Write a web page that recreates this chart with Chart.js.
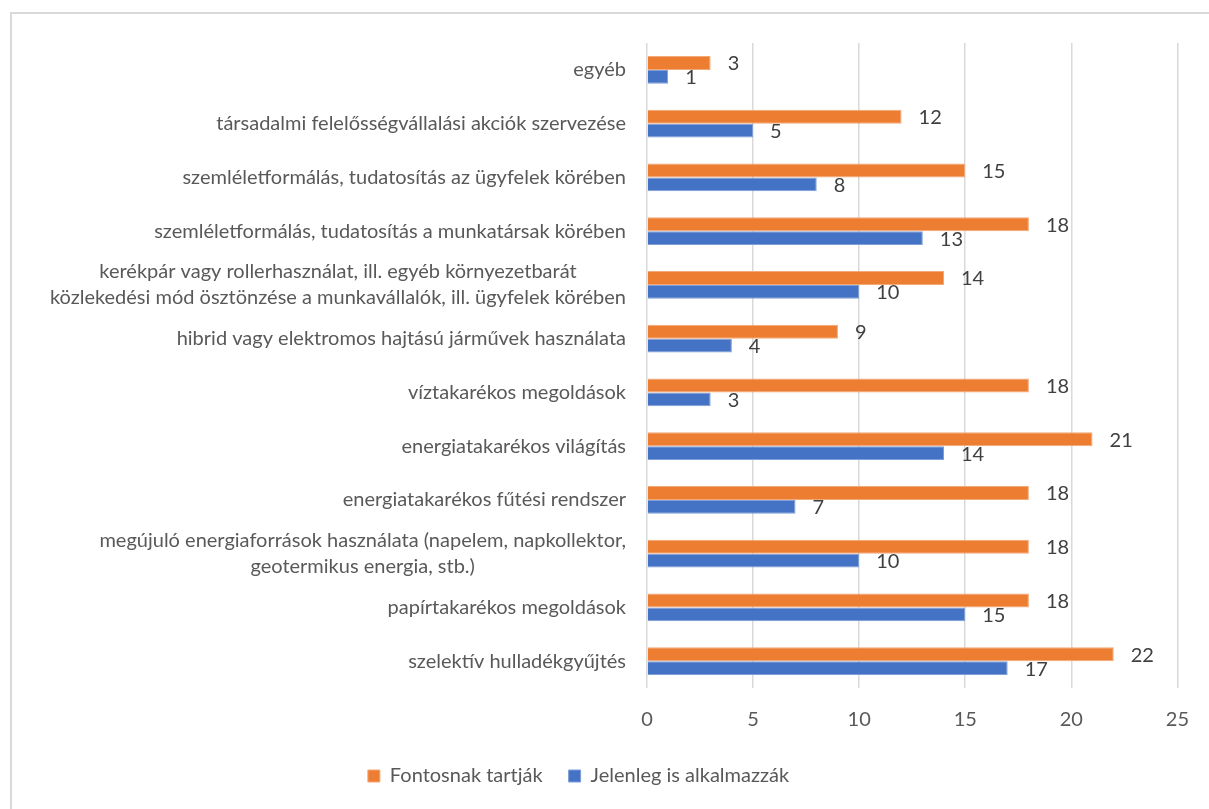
<!DOCTYPE html>
<html>
<head>
<meta charset="utf-8">
<script src="https://cdn.jsdelivr.net/npm/chart.js@4/dist/chart.umd.min.js"></script>
<style>
  html, body { margin: 0; padding: 0; background: #fff; overflow: hidden; }
  #frame { position: absolute; left: 10px; top: 12px; width: 1300px; height: 900px;
           border-left: 2px solid #d9d9d9; border-top: 2px solid #d9d9d9; }
  #chart { position: absolute; left: 0; top: 0; }
</style>
</head>
<body>
<div id="frame"></div>
<canvas id="chart" width="1209" height="809"></canvas>
<script>
// categories, top to bottom
const categories = [
    "egyéb",
    "társadalmi felelősségvállalási akciók szervezése",
    "szemléletformálás, tudatosítás az ügyfelek körében",
    "szemléletformálás, tudatosítás a munkatársak körében",
    ["kerékpár vagy rollerhasználat, ill. egyéb környezetbarát", "közlekedési mód ösztönzése a munkavállalók, ill. ügyfelek körében"],
    "hibrid vagy elektromos hajtású járművek használata",
    "víztakarékos megoldások",
    "energiatakarékos világítás",
    "energiatakarékos fűtési rendszer",
    ["megújuló energiaforrások használata (napelem, napkollektor,", "geotermikus energia, stb.)"],
    "papírtakarékos megoldások",
    "szelektív hulladékgyűjtés"
];
const fontosnak = [3, 12, 15, 18, 14, 9, 18, 21, 18, 18, 18, 22];
const jelenleg = [1, 5, 8, 13, 10, 4, 3, 14, 7, 10, 15, 17];
const xTicks = [0, 5, 10, 15, 20, 25];

const FONT = "Lato";

// category labels: block right aligned, lines centred inside it
const categoryLabels = {
    id: 'categoryLabels',
    afterDraw(chart) {
        const ctx = chart.ctx;
        const y = chart.scales.y;
        ctx.save();
        ctx.font = "20px " + FONT;
        ctx.fillStyle = "#595959";
        ctx.textAlign = "center";
        ctx.textBaseline = "middle";
        categories.forEach((lab, i) => {
            const lines = Array.isArray(lab) ? lab : [lab];
            const w = Math.max(...lines.map(l => ctx.measureText(l).width));
            const cx = chart.chartArea.left - 21 - w / 2;
            const cy = y.getPixelForTick(i);
            lines.forEach((l, k) => {
                ctx.fillText(l, cx, cy + (k - (lines.length - 1) / 2) * 26);
            });
        });
        ctx.restore();
    }
};

// value labels at bar ends
const valueLabels = {
    id: 'valueLabels',
    afterDatasetsDraw(chart) {
        const ctx = chart.ctx;
        ctx.save();
        ctx.font = "20px " + FONT;
        ctx.fillStyle = "#404040";
        ctx.textAlign = "left";
        ctx.textBaseline = "middle";
        chart.data.datasets.forEach((ds, i) => {
            chart.getDatasetMeta(i).data.forEach((bar, j) => {
                ctx.fillText(ds.data[j], bar.x + 17, bar.y + 1);
            });
        });
        ctx.restore();
    }
};

// legend sits a little left of the canvas centre in the original
const shiftLegend = {
    id: 'shiftLegend',
    afterLayout(chart) {
        chart.legend.left -= 11;
        chart.legend.right -= 11;
    }
};

const data = {
    labels: categories,
    datasets: [{
        label: 'Fontosnak tartják',
        data: fontosnak,
        backgroundColor: '#ED7D31',
        borderColor: '#f3a878',
        borderWidth: 1
    },
    {
        label: 'Jelenleg is alkalmazzák',
        data: jelenleg,
        backgroundColor: '#4472C4',
        borderColor: '#7f9fd6',
        borderWidth: 1
    }]
};

const config = {
    type: 'bar',
    data,
    options: {
        indexAxis: 'y',
        responsive: false,
        animation: false,
        devicePixelRatio: 1,
        categoryPercentage: 0.52,
        barPercentage: 1,
        layout: { padding: { top: 43, right: 30, bottom: 13, left: 0 } },
        scales: {
            x: {
                min: 0,
                max: 25,
                afterBuildTicks(scale) { scale.ticks = xTicks.map(v => ({ value: v })); },
                afterFit(scale) { scale.height = 52; },
                grid: { color: '#d9d9d9', lineWidth: 1.5, drawTicks: false },
                border: { display: false },
                ticks: { padding: 20, color: '#595959', font: { family: FONT, size: 20 } }
            },
            y: {
                afterFit(scale) { scale.width = 647; },
                grid: { display: false, drawTicks: false },
                border: { display: false },
                ticks: { display: false }
            }
        },
        plugins: {
            legend: {
                position: 'bottom',
                labels: {
                    boxWidth: 12,
                    boxHeight: 12,
                    padding: 26,
                    color: '#595959',
                    font: { family: FONT, size: 20 }
                }
            },
            tooltip: { enabled: false }
        }
    },
    plugins: [categoryLabels, valueLabels, shiftLegend]
};

const myChart = new Chart(document.getElementById('chart'), config);
</script>
</body>
</html>
